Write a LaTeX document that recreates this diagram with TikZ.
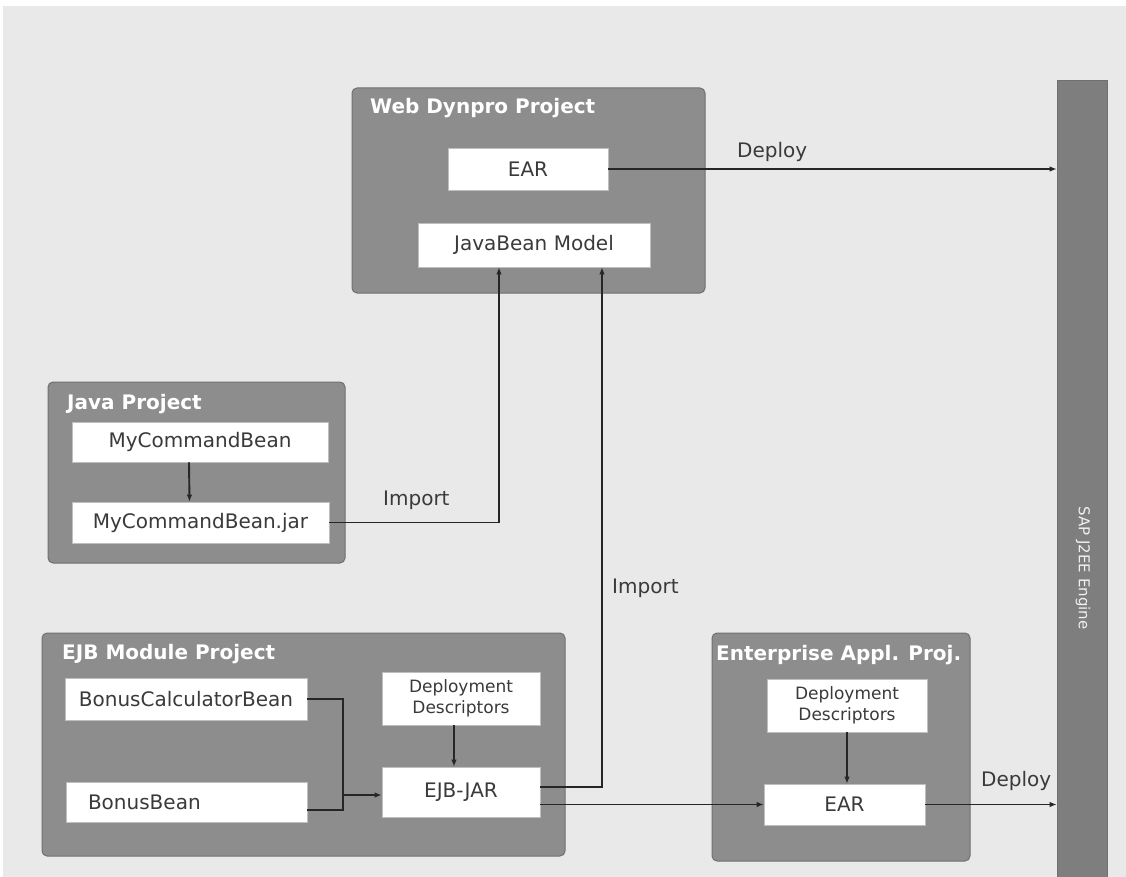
\documentclass[tikz,border=0pt]{standalone}
\usepackage{fontspec}
\setmainfont{DejaVu Sans}
\usetikzlibrary{arrows.meta,positioning}
\definecolor{bggray}{HTML}{E9E9E9}
\definecolor{grpgray}{HTML}{8D8D8D}
\definecolor{grpline}{HTML}{707070}
\definecolor{enggray}{HTML}{7E7E7E}
\definecolor{txtgray}{HTML}{3A3A3A}
\tikzset{
	grp/.style={draw=grpline, fill=grpgray, rounded corners=5pt, line width=1pt},
	grptitle/.style={anchor=base west, text=white, font=\fontsize{20}{24}\selectfont\bfseries, inner sep=0pt},
	item/.style={draw=black!25, fill=white, text=txtgray, line width=0.6pt, font=\fontsize{20}{24}\selectfont, inner sep=0pt},
	descitem/.style={item, font=\fontsize{17}{21}\selectfont, align=center},
	wire/.style={line width=1.9pt, draw=black!85},
	conn/.style={wire, -{Latex[length=7pt,width=5.5pt]}},
	lbl/.style={anchor=base west, text=txtgray, font=\fontsize{20}{24}\selectfont, inner sep=0pt}
}

\begin{document}
\begin{tikzpicture}[x=1pt,y=-1pt]
				\useasboundingbox (0,0) rectangle (1126,877);
				\fill[white] (0,0) rectangle (1126,877);
				\fill[bggray] (3,6) rectangle (1126,877);
				
				% engine
				\node[fill=enggray, draw=grpline, line width=0.6pt, minimum width=50pt, minimum height=797pt, inner sep=0pt] (engine) at (1082,478.5) {};
				\node[rotate=-90, text=black!6, font=\fontsize{15}{18}\selectfont] (enginetxt) at (1083,568) {SAP J2EE Engine};
				
				% web dynpro
				\node[grp, minimum width=353pt, minimum height=205pt] (webbox) at (528.5,190.5) {};
				\node[grptitle] (webtitle) at (370,114) {Web Dynpro Project};
				\node[item, minimum width=160pt, minimum height=42pt] (webear) at (528,169) {EAR};
				\node[item, minimum width=232pt, minimum height=44pt] (jbmodel) at (534,245) {JavaBean Model};
				
				% java project
				\node[grp, minimum width=297pt, minimum height=181pt] (javabox) at (196.5,472.5) {};
				\node[grptitle] (javatitle) at (67,409) {Java Project};
				\node[item, minimum width=256pt, minimum height=40pt] (mcb) at (200,442) {MyCommandBean};
				\node[item, minimum width=257pt, minimum height=41pt] (jar) at (200.5,522.5) {MyCommandBean.jar};
				
				% ejb module
				\node[grp, minimum width=523pt, minimum height=223pt] (ejbbox) at (303.5,744.5) {};
				\node[grptitle] (ejbtitle) at (62,659) {EJB Module Project};
				\node[item, minimum width=242pt, minimum height=42pt] (bcbean) at (186,699) {BonusCalculatorBean};
				\node[item, text width=197pt, inner xsep=22pt, align=left, minimum height=40pt] (bbean) at (186.5,802) {BonusBean};
				\node[descitem, minimum width=158pt, minimum height=53pt] (ejbdd) at (461,698.5) {Deployment\\Descriptors};
				\node[item, minimum width=158pt, minimum height=50pt] (ejbjar) at (461,792) {EJB-JAR};
				\coordinate (merge) at (343,795);
				
				% enterprise application
				\node[grp, minimum width=258pt, minimum height=228pt] (entbox) at (841,747) {};
				\node[grptitle] (enttitle) at (716,660) {Enterprise Appl. Proj.};
				\node[descitem, minimum width=160pt, minimum height=53pt] (entdd) at (847,705.5) {Deployment\\Descriptors};
				\node[item, minimum width=161pt, minimum height=41pt] (entear) at (844.5,804.5) {EAR};
				
				% connectors
				\draw[conn] (webear) -- (webear -| engine.west);
				\node[lbl] (dep1) at (737,158) {Deploy};
				
				\draw[conn] ([xshift=-11pt]mcb.south) -- ([xshift=-11pt]jar.north);
				\draw[conn] (jar) -| ([xshift=-35pt]jbmodel.south);
				\node[lbl] (imp1) at (383,505) {Import};
				
				\draw[conn] ([yshift=5pt]ejbjar.east) -| ([xshift=68pt]jbmodel.south);
				\node[lbl] (imp2) at (612,593) {Import};
				
				\draw[wire] (bcbean) -| (merge);
				\draw[wire] ([yshift=-8pt]bbean.east) -| (merge);
				\draw[conn] (merge) -- (merge -| ejbjar.west);
				\draw[conn] ([xshift=-7pt]ejbdd.south) -- ([xshift=-7pt]ejbjar.north);
				
				\draw[conn] (ejbjar.east |- entear) -- (entear);
				\draw[conn] (entdd.south) -- (entdd.south |- entear.north);
				\draw[conn] (entear) -- (entear -| engine.west);
				\node[lbl] (dep2) at (981,786) {Deploy};
			\end{tikzpicture}
\end{document}
